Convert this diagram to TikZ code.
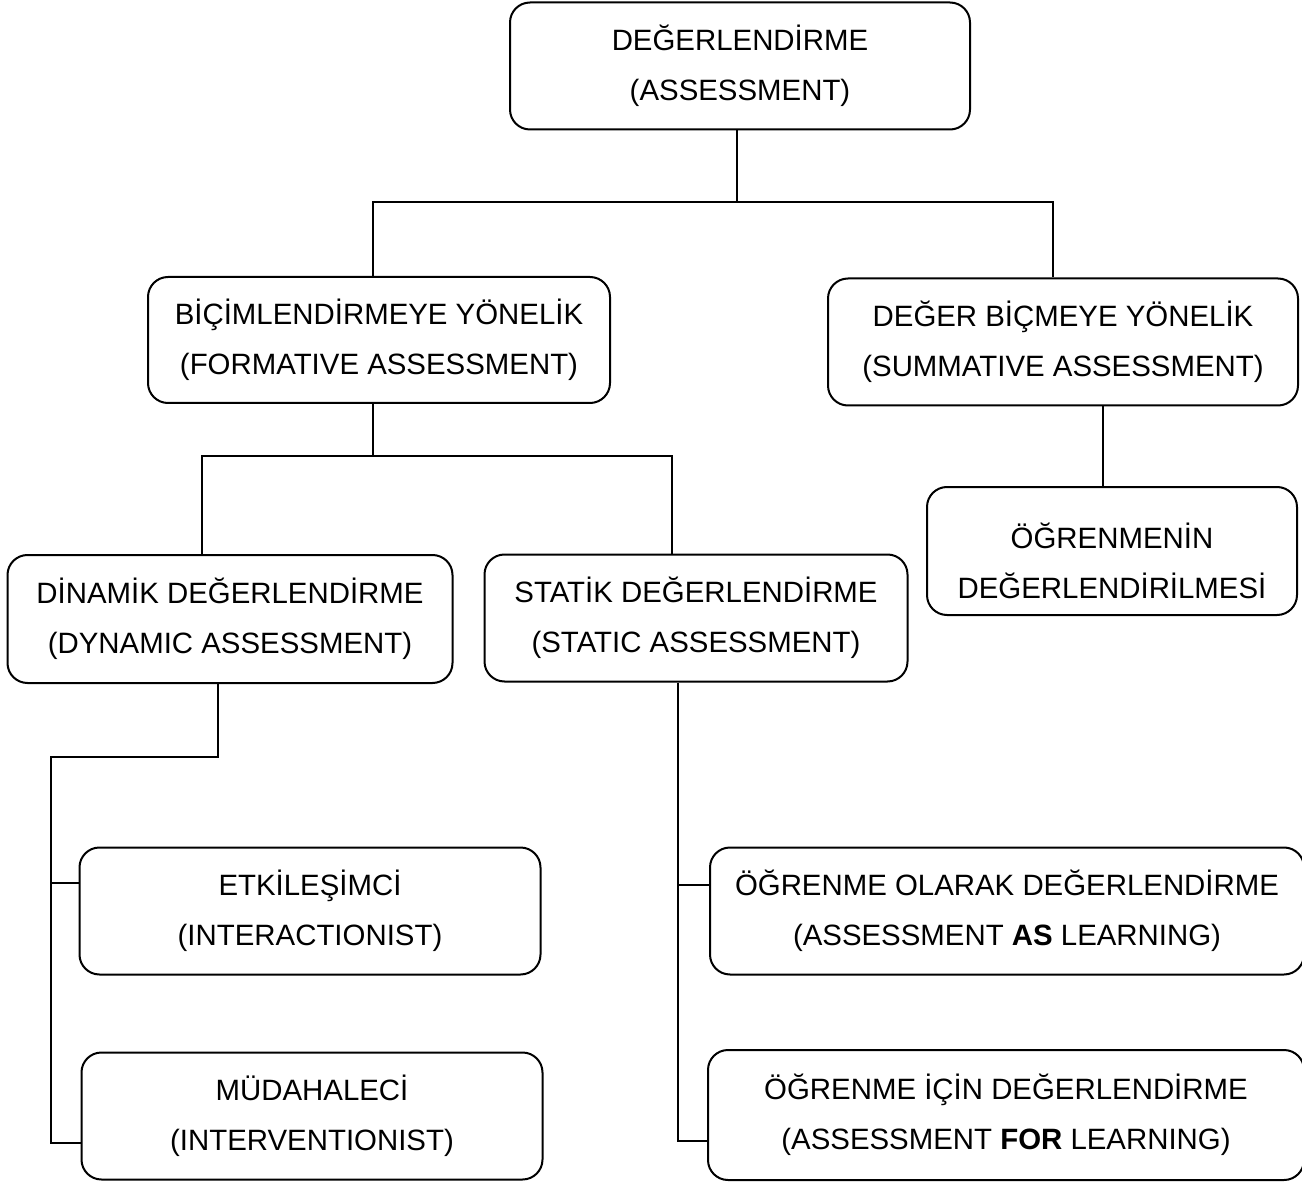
\documentclass[tikz,border=0pt]{standalone}
\usepackage{fontspec}
\setmainfont{Liberation Sans}
\usetikzlibrary{positioning,calc}

\begin{document}
\begin{tikzpicture}[x=0.5pt, y=-0.5pt,
  kutu/.style={draw, line width=1pt, rounded corners=10pt, align=center, inner sep=0pt,
    font=\fontsize{14.7}{25}\selectfont},
  yazi/.style={align=center, inner sep=0pt, font=\fontsize{14.7}{25}\selectfont},
  hat/.style={line width=1pt}]
  \useasboundingbox (0,0) rectangle (1302,1182);

  % Top levels
  \node[kutu, minimum width=230pt, minimum height=63.5pt] (deg) at (740,66) {DEĞERLENDİRME\\(ASSESSMENT)};
  \node[kutu, minimum width=231pt, minimum height=63pt] (form) at (379,340) {BİÇİMLENDİRMEYE YÖNELİK\\(FORMATIVE ASSESSMENT)};
  \node[kutu, minimum width=235pt, minimum height=63.5pt] (summ) at (1063,342) {DEĞER BİÇMEYE YÖNELİK\\(SUMMATIVE ASSESSMENT)};
  \node[kutu, minimum width=185pt, minimum height=64pt] (ogr) at (1112,551) {};
  \node[yazi] (ogrt) at ([yshift=-5pt]ogr.center) {ÖĞRENMENİN\\DEĞERLENDİRİLMESİ};

  % Second level
  \node[kutu, minimum width=222.5pt, minimum height=64pt] (dyn) at (230,619) {DİNAMİK DEĞERLENDİRME\\(DYNAMIC ASSESSMENT)};
  \node[kutu, minimum width=211.5pt, minimum height=63.5pt] (stat) at (696,618) {STATİK DEĞERLENDİRME\\(STATIC ASSESSMENT)};

  % Leaves
  \node[kutu, minimum width=230.5pt, minimum height=63.5pt] (etk) at (310,911) {ETKİLEŞİMCİ\\(INTERACTIONIST)};
  \node[kutu, minimum width=230.5pt, minimum height=63.5pt] (mud) at (312,1116) {MÜDAHALECİ\\(INTERVENTIONIST)};
  \node[kutu, minimum width=297pt, minimum height=63.5pt] (asl) at (1007,911) {ÖĞRENME OLARAK DEĞERLENDİRME\\(ASSESSMENT \textbf{AS} LEARNING)};
  \node[kutu, minimum width=298pt, minimum height=65pt] (forl) at (1006,1115) {ÖĞRENME İÇİN DEĞERLENDİRME\\(ASSESSMENT \textbf{FOR} LEARNING)};

  % Connectors
  \coordinate (j1) at ([xshift=-1.5pt]deg.south);
  \draw[hat] (j1) -- ++(0,72) coordinate (j2);
  \draw[hat] ([xshift=-3pt]form.north) |- (j2) -| ([xshift=-5pt]summ.north);
  \draw[hat] ([xshift=-4.5pt]ogr.north) -- ([xshift=-4.5pt]ogr.north |- summ.south);

  \coordinate (f1) at ([xshift=-3pt]form.south);
  \draw[hat] (f1) -- ++(0,52) coordinate (f2);
  \draw[hat] ([xshift=-14pt]dyn.north) |- (f2) -| ([xshift=-12pt]stat.north);

  \coordinate (etkin) at ([yshift=14pt]etk.west);
  \coordinate (mudin) at ([yshift=-13.5pt]mud.west);
  \draw[hat] ([xshift=-6pt]dyn.south) -- ++(0,73) -| (51,0 |- mudin) -- (mudin);
  \draw[hat] (51,0 |- etkin) -- (etkin);

  \coordinate (aslin) at ([yshift=13pt]asl.west);
  \coordinate (forlin) at ([yshift=-13pt]forl.west);
  \coordinate (s1) at ([xshift=-9pt]stat.south);
  \draw[hat] (s1) |- (forlin);
  \draw[hat] (s1 |- aslin) -- (aslin);
\end{tikzpicture}
\end{document}
